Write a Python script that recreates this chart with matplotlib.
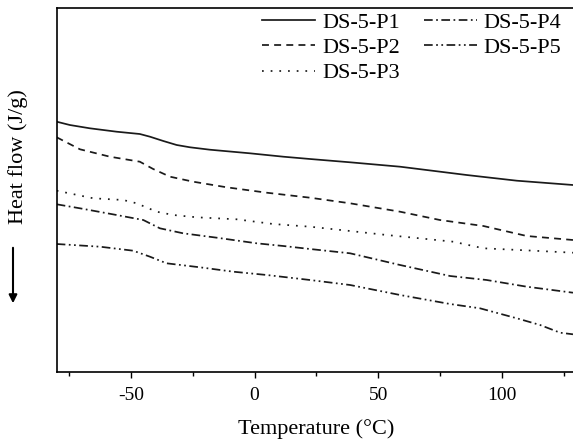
import matplotlib
matplotlib.use("Agg")
import matplotlib.pyplot as plt

plt.rcParams["font.family"] = ["Liberation Serif", "DejaVu Serif"]
plt.rcParams["axes.unicode_minus"] = False

# ------------------ Data ------------------
# heat flow in arbitrary units (no y scale on the original)
t_p1 = [-80, -74.7, -66.6, -55.8, -46.4, -42.3, -36.9, -31.5, -26.1, -18.1, -1.9, 11.6, 22.4, 38.6, 58.8, 85.7, 106.0, 128.7]
hf_p1 = [2.503, 2.47, 2.437, 2.403, 2.38, 2.353, 2.31, 2.27, 2.247, 2.223, 2.187, 2.153, 2.13, 2.097, 2.053, 1.97, 1.913, 1.87]

t_p2 = [-80, -70.6, -58.5, -46.4, -41.0, -34.2, -24.8, -11.3, 4.9, 22.4, 38.6, 58.8, 74.9, 92.5, 110.0, 128.7]
hf_p2 = [2.347, 2.227, 2.153, 2.103, 2.03, 1.953, 1.903, 1.847, 1.793, 1.743, 1.687, 1.603, 1.52, 1.46, 1.36, 1.32]

t_p3 = [-80, -65.2, -53.1, -47.7, -39.6, -32.9, -23.4, -7.3, 7.5, 22.4, 38.6, 53.4, 80.3, 92.5, 112.7, 128.7]
hf_p3 = [1.813, 1.737, 1.72, 1.687, 1.603, 1.57, 1.547, 1.527, 1.48, 1.453, 1.41, 1.37, 1.303, 1.237, 1.213, 1.193]

t_p4 = [-80, -70.6, -55.8, -45.0, -38.3, -28.9, -15.3, 0.8, 11.6, 22.4, 38.6, 58.8, 79.0, 93.8, 110.0, 128.7]
hf_p4 = [1.677, 1.637, 1.57, 1.52, 1.437, 1.387, 1.343, 1.287, 1.26, 1.23, 1.187, 1.07, 0.96, 0.92, 0.853, 0.793]

t_p5 = [-80, -62.5, -49.1, -42.3, -35.6, -22.1, -8.6, 4.9, 22.4, 38.6, 58.8, 79.0, 91.1, 106.0, 115.4, 123.5, 128.7]
hf_p5 = [1.28, 1.253, 1.213, 1.153, 1.087, 1.047, 1.003, 0.97, 0.92, 0.87, 0.77, 0.68, 0.637, 0.537, 0.47, 0.393, 0.377]

labels = ["DS-5-P1", "DS-5-P2", "DS-5-P3", "DS-5-P4", "DS-5-P5"]
x_ticks = [-50, 0, 50, 100]

# ------------------ Plot ------------------
fig = plt.figure(figsize=(5.73, 4.42), dpi=100)
ax = fig.add_axes([56.7 / 573, 70 / 442, 519.5 / 573, 364 / 442])

lc = "#1a1a1a"
lw = 1.25
ax.plot(t_p1, hf_p1, color=lc, lw=lw, ls="-", label=labels[0])
ax.plot(t_p2, hf_p2, color=lc, lw=lw, ls=(0, (4, 3)), label=labels[1])
ax.plot(t_p3, hf_p3, color=lc, lw=lw, ls=(0, (1, 4)), label=labels[2])
ax.plot(t_p4, hf_p4, color=lc, lw=lw, ls=(0, (5, 2, 1, 2)), label=labels[3])
ax.plot(t_p5, hf_p5, color=lc, lw=lw, ls=(0, (5, 2, 1, 2, 1, 2)), label=labels[4])

ax.set_xlim(-80, 130)
ax.set_ylim(0, 3.64)
ax.set_xticks(x_ticks)
ax.set_xticks([-75, -25, 25, 75, 125], minor=True)
ax.set_yticks([])
ax.tick_params(axis="x", which="major", direction="out", length=4, width=1, labelsize=14, pad=7)
ax.tick_params(axis="x", which="minor", direction="out", length=3, width=1)
for s in ax.spines.values():
    s.set_linewidth(1.2)

ax.set_xlabel("Temperature (°C)", fontsize=16, labelpad=11)

# y label with arrow underneath
fig.text(18 / 573, 1 - 157 / 442, "Heat flow (J/g)", rotation=90, fontsize=16,
         ha="center", va="center")
ax.annotate("", xy=(13 / 573, 1 - 306 / 442), xytext=(13 / 573, 1 - 245 / 442),
            xycoords="figure fraction", textcoords="figure fraction",
            arrowprops=dict(arrowstyle="-|>", color="black", lw=1.5, mutation_scale=12))

ax.legend(ncol=2, frameon=False, fontsize=16, loc="upper left",
          bbox_to_anchor=(262 / 573, 1 - 12 / 442), bbox_transform=fig.transFigure,
          handlelength=2.4, handletextpad=0.3, columnspacing=1.07,
          labelspacing=0.22, borderpad=0, borderaxespad=0)

fig.savefig("out.png", dpi=100)
